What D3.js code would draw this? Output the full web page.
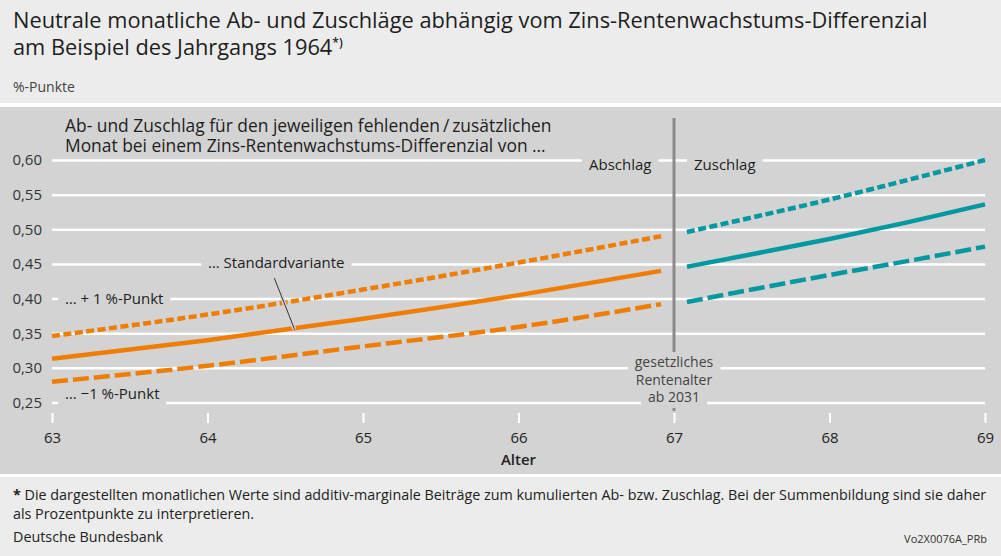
<!DOCTYPE html>
<html>
<head>
<meta charset="utf-8">
<script src="https://cdn.jsdelivr.net/npm/d3@7"></script>
<style>
  body { margin: 0; }
  svg { display: block; }
  text { font-family: "Open Sans", "Noto Sans", sans-serif; }
</style>
</head>
<body>
<div id="chart"></div>
<script>
// Chart data
var ageTicks = [63, 64, 65, 66, 67, 68, 69];
var valueTicks = [0.25, 0.30, 0.35, 0.40, 0.45, 0.50, 0.55, 0.60];

// Abschlag: retiring before 67 (up to one month before)
var agesAbschlag = [63, 64, 65, 66, 66 + 11 / 12];
var abschlagPlus1 = [0.346, 0.377, 0.413, 0.452, 0.490];
var abschlagStandard = [0.313, 0.340, 0.371, 0.405, 0.440];
var abschlagMinus1 = [0.280, 0.303, 0.331, 0.359, 0.392];

// Zuschlag: retiring after 67 (from one month after)
var agesZuschlag = [67 + 1 / 12, 67.5, 68, 68.5, 69];
var zuschlagPlus1 = [0.496, 0.517, 0.543, 0.571, 0.600];
var zuschlagStandard = [0.446, 0.464, 0.486, 0.510, 0.536];
var zuschlagMinus1 = [0.395, 0.413, 0.434, 0.454, 0.475];

var retirementAge = 67;

var w = 1001;
var h = 556;
var panelColor = "#d3d3d3";
var orange = "#f07d00";
var teal = "#0099a1";
var dotted = "8,3.5";
var dashed = "16,5";

var x = d3.scaleLinear()
    .domain([63, 69])
    .range([52, 985]);

var y = d3.scaleLinear()
    .domain([0.25, 0.60])
    .range([402.5, 160]);

var fmt = d3.formatLocale({decimal: ",", thousands: ".", grouping: [3], currency: ["", " €"]}).format(".2f");

var svg = d3.select("#chart")
    .append("svg")
    .attr("width", w)
    .attr("height", h);

// Backgrounds: light header/footer, white rules, grey plot panel
svg.append("rect").attr("width", w).attr("height", h).attr("fill", "#ececec");
svg.append("rect").attr("y", 103).attr("width", w).attr("height", 374).attr("fill", "#fff");
svg.append("rect").attr("y", 107).attr("width", w).attr("height", 367).attr("fill", panelColor);

// Title
var title = svg.append("text")
    .attr("x", 13)
    .attr("y", 28)
    .attr("font-size", 21.8)
    .attr("fill", "#1e1e1e");
title.append("tspan").text("Neutrale monatliche Ab- und Zuschläge abhängig vom Zins-Rentenwachstums-Differenzial");
title.append("tspan").attr("x", 13).attr("y", 55).text("am Beispiel des Jahrgangs 1964");
title.append("tspan").attr("font-size", 12).attr("dy", -8).attr("font-weight", 600).text("*)");

svg.append("text")
    .attr("x", 13)
    .attr("y", 92)
    .attr("font-size", 14)
    .attr("fill", "#444")
    .text("%-Punkte");

// Y axis with white gridlines
svg.append("g")
    .attr("transform", "translate(52,0)")
    .call(d3.axisLeft(y).tickValues(valueTicks).tickSize(-(985 - 52)).tickPadding(10).tickFormat(fmt))
    .call(function(g) {
        g.select(".domain").remove();
        g.attr("font-family", null).attr("font-size", null);
        g.selectAll(".tick line").attr("stroke", "#fff").attr("stroke-width", 2.5);
        g.selectAll(".tick text").attr("fill", "#333").attr("font-size", 15);
    });

// X axis: short white ticks under the panel
svg.append("g")
    .attr("transform", "translate(0,413)")
    .call(d3.axisBottom(x).tickValues(ageTicks).tickSize(10).tickPadding(9).tickFormat(d3.format("d")))
    .call(function(g) {
        g.select(".domain").remove();
        g.attr("font-family", null).attr("font-size", null);
        g.selectAll(".tick line").attr("stroke", "#fff").attr("stroke-width", 2);
        g.selectAll(".tick text").attr("fill", "#222").attr("font-size", 15);
    });

svg.append("text")
    .attr("x", (x.range()[0] + x.range()[1]) / 2)
    .attr("y", 465)
    .attr("text-anchor", "middle")
    .attr("font-size", 15)
    .attr("font-weight", 600)
    .attr("fill", "#222")
    .text("Alter");

// Vertical marker at the statutory retirement age
svg.append("line")
    .attr("x1", x(retirementAge))
    .attr("x2", x(retirementAge))
    .attr("y1", 118)
    .attr("y2", 411)
    .attr("stroke", "#8a8a8a")
    .attr("stroke-width", 3);

// Panel heading (no mask needed, it sits above the gridlines)
var heading = svg.append("text")
    .attr("x", 65)
    .attr("y", 132)
    .attr("font-size", 17.4)
    .attr("fill", "#1e1e1e");
heading.append("tspan").text("Ab- und Zuschlag für den jeweiligen fehlenden\u2009/\u2009zusätzlichen");
heading.append("tspan").attr("x", 65).attr("y", 152).text("Monat bei einem Zins-Rentenwachstums-Differenzial von …");

// Labels get a panel-coloured box behind them that cuts the gridlines
var maskLayer = svg.append("g");
var labelLayer = svg.append("g");

function maskedText(px, py, str, opts) {
    opts = opts || {};
    var t = labelLayer.append("text")
        .attr("x", px)
        .attr("y", py)
        .attr("font-size", opts.size || 15)
        .attr("fill", opts.fill || "#1e1e1e")
        .attr("text-anchor", opts.anchor || "start")
        .text(str);
    var b = t.node().getBBox();
    var padX = opts.padX === undefined ? 7 : opts.padX;
    var padY = opts.padY === undefined ? 2 : opts.padY;
    maskLayer.append("rect")
        .attr("x", b.x - padX)
        .attr("y", b.y - padY)
        .attr("width", b.width + 2 * padX)
        .attr("height", b.height + 2 * padY)
        .attr("fill", panelColor);
    return t;
}

maskedText(589, 170, "Abschlag");
maskedText(694, 170, "Zuschlag");
maskedText(208, 268, "… Standardvariante");
maskedText(65, 304, "… + 1 %-Punkt");
maskedText(65, 399, "… \u22121 %-Punkt", {padY: 3});
maskedText(x(retirementAge), 367, "gesetzliches", {anchor: "middle", fill: "#444", size: 14, padY: 0});
maskedText(x(retirementAge), 385, "Rentenalter", {anchor: "middle", fill: "#444", size: 14, padY: 0});
maskedText(x(retirementAge), 402, "ab 2031", {anchor: "middle", fill: "#444", size: 14, padY: 2});

// Series lines
var series = [
    {ages: agesAbschlag, values: abschlagPlus1, color: orange, dash: dotted},
    {ages: agesAbschlag, values: abschlagStandard, color: orange, dash: null},
    {ages: agesAbschlag, values: abschlagMinus1, color: orange, dash: dashed},
    {ages: agesZuschlag, values: zuschlagPlus1, color: teal, dash: dotted},
    {ages: agesZuschlag, values: zuschlagStandard, color: teal, dash: null},
    {ages: agesZuschlag, values: zuschlagMinus1, color: teal, dash: dashed}
];

var line = d3.line()
    .x(function(d) { return x(d[0]); })
    .y(function(d) { return y(d[1]); })
    .curve(d3.curveMonotoneX);

svg.selectAll("path.series")
    .data(series)
    .enter()
    .append("path")
    .attr("class", "series")
    .attr("d", function(s) {
        return line(s.ages.map(function(a, i) { return [a, s.values[i]]; }));
    })
    .attr("fill", "none")
    .attr("stroke", function(s) { return s.color; })
    .attr("stroke-width", 4.5)
    .attr("stroke-dasharray", function(s) { return s.dash; });

// Leader line from "Standardvariante" to the solid orange line
var leader = [[64.43, 0.4295], [64.56, 0.357]];
svg.append("line")
    .attr("x1", x(leader[0][0])).attr("y1", y(leader[0][1]))
    .attr("x2", x(leader[1][0])).attr("y2", y(leader[1][1]) + 1)
    .attr("stroke", panelColor)
    .attr("stroke-width", 4);
svg.append("line")
    .attr("x1", x(leader[0][0])).attr("y1", y(leader[0][1]))
    .attr("x2", x(leader[1][0])).attr("y2", y(leader[1][1]) + 1)
    .attr("stroke", "#333")
    .attr("stroke-width", 1);

// Footnote and source, squeezed horizontally like a condensed face
var foot = svg.append("g");
var f1 = foot.append("text").attr("x", 0).attr("y", 500).attr("font-size", 14).attr("fill", "#222");
f1.append("tspan").attr("font-weight", 700).text("*");
f1.append("tspan").text(" Die dargestellten monatlichen Werte sind additiv-marginale Beiträge zum kumulierten Ab- bzw. Zuschlag. Bei der Summenbildung sind sie daher");
foot.append("text").attr("x", 0).attr("y", 519).attr("font-size", 14).attr("fill", "#222")
    .text("als Prozentpunkte zu interpretieren.");
foot.append("text").attr("x", 0).attr("y", 542).attr("font-size", 14).attr("fill", "#222")
    .text("Deutsche Bundesbank");
var squeeze = 974 / f1.node().getComputedTextLength();
foot.attr("transform", "translate(13,0) scale(" + squeeze + ",1)");

svg.append("text")
    .attr("x", 987)
    .attr("y", 543)
    .attr("text-anchor", "end")
    .attr("font-size", 11)
    .attr("fill", "#333")
    .text("Vo2X0076A_PRb");
</script>
</body>
</html>
